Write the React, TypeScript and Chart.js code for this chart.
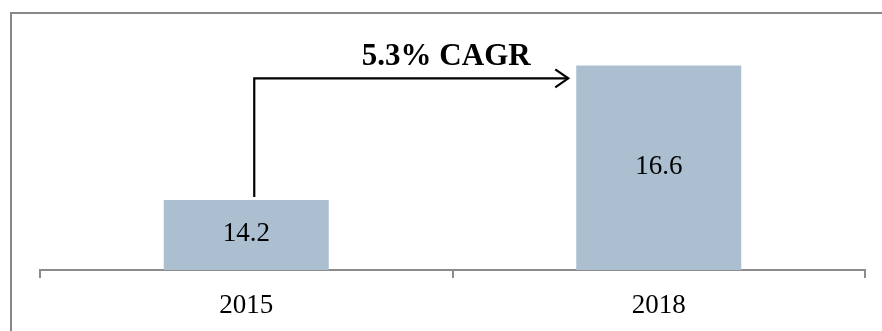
import React, { useEffect, useRef } from "react";
import { Chart, registerables } from "chart.js";

Chart.register(...registerables);

const categories: string[] = ["2015", "2018"];
const values: number[] = [14.2, 16.6];
const cagrLabel = "5.3% CAGR";
const arrowLevel = 16.37;
const axisMin = 12.95;
const axisMax = 17;

const SERIF = "'Liberation Serif', 'Times New Roman', Times, serif";

const overlayPlugin = {
  id: "overlay",
  afterDatasetsDraw(chart: any) {
    const ctx = chart.ctx;
    const meta = chart.getDatasetMeta(0);
    const yScale = chart.scales.y;
    const bottom = chart.chartArea.bottom;
    ctx.save();
    // value labels
    ctx.fillStyle = "#000";
    ctx.font = `27px ${SERIF}`;
    ctx.textAlign = "center";
    ctx.textBaseline = "middle";
    meta.data.forEach((bar: any, i: number) => {
      const base = Math.min(bar.base, bottom);
      const mid = (bar.y + base) / 2;
      ctx.fillText(values[i].toFixed(1), bar.x, mid - 1);
    });
    // CAGR arrow
    const b0 = meta.data[0];
    const b1 = meta.data[1];
    const x0 = b0.x + 8;
    const yBottom = b0.y - 3;
    const yTop = yScale.getPixelForValue(arrowLevel);
    const xEnd = b1.x - b1.width / 2 - 8;
    ctx.strokeStyle = "#000";
    ctx.lineWidth = 2.2;
    ctx.lineJoin = "miter";
    ctx.beginPath();
    ctx.moveTo(x0, yBottom);
    ctx.lineTo(x0, yTop);
    ctx.lineTo(xEnd, yTop);
    ctx.stroke();
    ctx.beginPath();
    ctx.moveTo(xEnd - 13, yTop - 9);
    ctx.lineTo(xEnd, yTop);
    ctx.lineTo(xEnd - 13, yTop + 9);
    ctx.stroke();
    ctx.font = `bold 31px ${SERIF}`;
    ctx.textAlign = "center";
    ctx.textBaseline = "middle";
    ctx.fillText(cagrLabel, (x0 + xEnd) / 2 + 35, yTop - 21);
    ctx.restore();
  },
};

export default function App() {
  const canvasRef = useRef<HTMLCanvasElement | null>(null);

  useEffect(() => {
    if (!canvasRef.current) return;
    const chart = new Chart(canvasRef.current, {
      type: "bar",
      data: {
        labels: categories,
        datasets: [
          {
            data: values,
            backgroundColor: "rgb(171,191,208)",
            borderWidth: 0,
            barPercentage: 0.4,
            categoryPercentage: 1,
          },
        ],
      },
      options: {
        animation: false,
        responsive: false,
        maintainAspectRatio: false,
        layout: { padding: { left: 40, right: 17, top: 43, bottom: 0 } },
        plugins: {
          legend: { display: false },
          tooltip: { enabled: false },
        },
        scales: {
          x: {
            offset: true,
            afterFit: (scale: any) => {
              scale.height = 61;
            },
            grid: {
              offset: true,
              drawOnChartArea: false,
              drawTicks: true,
              tickLength: 8,
              color: "#8c8c8c",
              lineWidth: 2,
            },
            border: { display: true, color: "#8c8c8c", width: 2 },
            ticks: {
              color: "#000",
              font: { family: SERIF, size: 27 },
              padding: 12,
            },
          },
          y: {
            display: false,
            min: axisMin,
            max: axisMax,
          },
        },
      },
      plugins: [overlayPlugin],
    });
    return () => chart.destroy();
  }, []);

  return (
    <div
      style={{
        position: "fixed",
        left: 0,
        top: 0,
        width: 882,
        height: 331,
        overflow: "hidden",
        background: "#fff",
      }}
    >
      <div
        style={{
          position: "absolute",
          left: 10,
          top: 12,
          width: 1000,
          height: 1000,
          borderTop: "2px solid #888",
          borderLeft: "2px solid #888",
        }}
      />
      <canvas
        ref={canvasRef}
        width={882}
        height={331}
        style={{ position: "absolute", left: 0, top: 0, width: 882, height: 331 }}
      />
    </div>
  );
}
